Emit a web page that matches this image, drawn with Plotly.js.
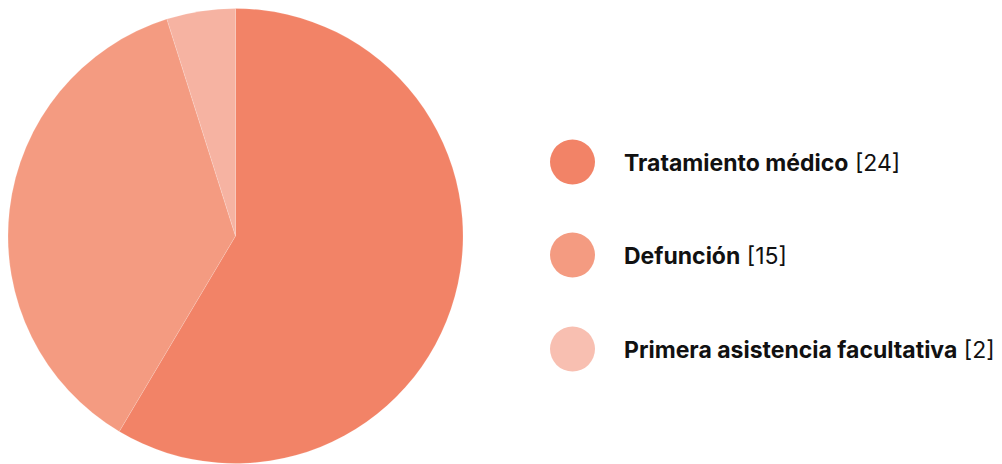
<!DOCTYPE html>
<html>
<head>
<meta charset="utf-8">
<script src="https://cdn.plot.ly/plotly-3.0.1.min.js"></script>
<style>html,body{margin:0;padding:0;background:#fff;}#chart{width:1002px;height:464px;}</style>
</head>
<body>
<div id="chart"></div>
<script>
const categories = ["Tratamiento médico", "Defunción", "Primera asistencia facultativa"];
const values = [24, 15, 2];
const colors = ["#F28367", "#F49B81", "#F6B3A2"];
const legendColors = ["#F28367", "#F49B81", "#F8BFB1"];

const W = 1002, H = 464;
const legendY = [162, 255, 349];

const shapes = categories.map((c, i) => ({
  type: "circle", xref: "paper", yref: "paper",
  x0: 550 / W, x1: 595 / W,
  y0: 1 - (legendY[i] + 22.5) / H, y1: 1 - (legendY[i] - 22.5) / H,
  fillcolor: legendColors[i], line: {width: 0}
}));
const annotations = categories.map((c, i) => ({
  xref: "paper", yref: "paper", x: 622 / W, y: 1 - (legendY[i] + 0.5) / H,
  xanchor: "left", yanchor: "middle", showarrow: false,
  text: "<b>" + c + "</b> [" + values[i] + "]",
  font: {family: "Inter", size: 23, color: "#111111"}
}));

Plotly.newPlot("chart", [{
  type: "pie", labels: categories, values: values, sort: false,
  direction: "clockwise", rotation: 0,
  marker: {colors: colors, line: {color: "rgba(255,255,255,0.3)", width: 0.5}},
  textinfo: "none", hoverinfo: "label+value",
  domain: {x: [8 / W, 463 / W], y: [0, 1 - 8 / H]},
  showlegend: false
}], {
  width: W, height: H, margin: {l: 0, r: 0, t: 0, b: 0},
  paper_bgcolor: "#ffffff", showlegend: false,
  shapes: shapes, annotations: annotations
}, {displayModeBar: false, staticPlot: true});
</script>
</body>
</html>
